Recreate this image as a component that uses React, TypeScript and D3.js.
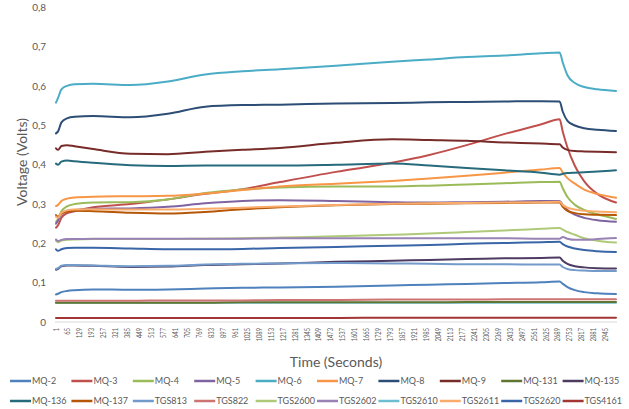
import React from "react";
import * as d3 from "d3";

// Sample times (seconds) at which each sensor trace is sampled
const times = [1, 12, 30, 60, 100, 200, 400, 600, 800, 1000, 1200, 1500, 1800, 2000, 2200, 2400, 2600, 2698, 2715, 2740, 2780, 2830, 2900, 3000];

const mq2 = [0.070, 0.072, 0.076, 0.079, 0.081, 0.083, 0.082, 0.083, 0.085, 0.087, 0.088, 0.090, 0.093, 0.095, 0.097, 0.099, 0.101, 0.103, 0.097, 0.089, 0.081, 0.076, 0.073, 0.071];
const mq3 = [0.240, 0.246, 0.265, 0.277, 0.282, 0.292, 0.300, 0.312, 0.326, 0.338, 0.356, 0.382, 0.405, 0.425, 0.450, 0.478, 0.503, 0.516, 0.484, 0.444, 0.397, 0.358, 0.326, 0.304];
const mq4 = [0.255, 0.262, 0.282, 0.294, 0.300, 0.304, 0.305, 0.312, 0.328, 0.337, 0.342, 0.345, 0.345, 0.347, 0.350, 0.353, 0.356, 0.357, 0.340, 0.318, 0.298, 0.285, 0.274, 0.262];
const mq5 = [0.250, 0.258, 0.275, 0.283, 0.285, 0.288, 0.289, 0.293, 0.302, 0.308, 0.310, 0.308, 0.305, 0.304, 0.305, 0.306, 0.308, 0.308, 0.298, 0.285, 0.273, 0.265, 0.259, 0.255];
const mq6 = [0.558, 0.570, 0.592, 0.601, 0.605, 0.606, 0.603, 0.612, 0.630, 0.638, 0.643, 0.652, 0.662, 0.668, 0.674, 0.678, 0.684, 0.686, 0.660, 0.628, 0.608, 0.598, 0.592, 0.588];
const mq7 = [0.295, 0.298, 0.308, 0.314, 0.317, 0.319, 0.320, 0.321, 0.327, 0.336, 0.345, 0.352, 0.359, 0.365, 0.372, 0.380, 0.388, 0.392, 0.380, 0.366, 0.352, 0.337, 0.326, 0.316];
const mq8 = [0.480, 0.485, 0.508, 0.518, 0.522, 0.524, 0.521, 0.530, 0.548, 0.552, 0.553, 0.556, 0.557, 0.559, 0.560, 0.561, 0.562, 0.561, 0.535, 0.512, 0.500, 0.493, 0.489, 0.486];
const mq9 = [0.442, 0.438, 0.448, 0.450, 0.447, 0.440, 0.428, 0.427, 0.433, 0.438, 0.443, 0.456, 0.465, 0.463, 0.461, 0.457, 0.454, 0.452, 0.444, 0.438, 0.435, 0.434, 0.433, 0.432];
const mq131 = [0.049, 0.049, 0.049, 0.049, 0.049, 0.049, 0.049, 0.049, 0.049, 0.050, 0.050, 0.050, 0.050, 0.050, 0.051, 0.051, 0.051, 0.051, 0.051, 0.051, 0.051, 0.051, 0.051, 0.051];
const mq135 = [0.133, 0.135, 0.142, 0.144, 0.144, 0.143, 0.140, 0.141, 0.145, 0.147, 0.149, 0.153, 0.156, 0.158, 0.160, 0.162, 0.163, 0.164, 0.156, 0.148, 0.142, 0.139, 0.137, 0.136];
const mq136 = [0.403, 0.400, 0.408, 0.411, 0.409, 0.405, 0.399, 0.397, 0.398, 0.398, 0.398, 0.400, 0.403, 0.398, 0.392, 0.386, 0.380, 0.375, 0.377, 0.379, 0.380, 0.381, 0.383, 0.386];
const mq137 = [0.272, 0.268, 0.276, 0.281, 0.283, 0.282, 0.278, 0.276, 0.280, 0.287, 0.292, 0.297, 0.300, 0.301, 0.302, 0.303, 0.304, 0.304, 0.293, 0.283, 0.277, 0.274, 0.273, 0.272];
const tgs813 = [0.135, 0.137, 0.143, 0.145, 0.145, 0.144, 0.142, 0.143, 0.146, 0.148, 0.149, 0.150, 0.149, 0.148, 0.147, 0.147, 0.146, 0.146, 0.140, 0.135, 0.132, 0.131, 0.130, 0.130];
const tgs822 = [0.054, 0.054, 0.054, 0.054, 0.054, 0.054, 0.054, 0.055, 0.055, 0.055, 0.056, 0.056, 0.057, 0.057, 0.057, 0.058, 0.058, 0.058, 0.058, 0.058, 0.058, 0.058, 0.058, 0.058];
const tgs2600 = [0.207, 0.203, 0.207, 0.209, 0.210, 0.211, 0.211, 0.211, 0.212, 0.213, 0.215, 0.218, 0.222, 0.225, 0.229, 0.233, 0.237, 0.239, 0.235, 0.229, 0.222, 0.213, 0.207, 0.202];
const tgs2602 = [0.210, 0.206, 0.209, 0.211, 0.211, 0.212, 0.212, 0.212, 0.212, 0.212, 0.213, 0.213, 0.213, 0.213, 0.213, 0.213, 0.212, 0.212, 0.216, 0.212, 0.209, 0.209, 0.211, 0.214];
const tgs2610 = [0.049, 0.049, 0.049, 0.049, 0.049, 0.049, 0.049, 0.049, 0.049, 0.049, 0.049, 0.049, 0.049, 0.049, 0.049, 0.049, 0.049, 0.049, 0.049, 0.049, 0.049, 0.049, 0.049, 0.049];
const tgs2611 = [0.268, 0.265, 0.278, 0.284, 0.286, 0.287, 0.286, 0.286, 0.288, 0.291, 0.294, 0.298, 0.301, 0.302, 0.303, 0.304, 0.305, 0.306, 0.298, 0.291, 0.286, 0.283, 0.281, 0.279];
const tgs2620 = [0.185, 0.181, 0.185, 0.188, 0.189, 0.189, 0.187, 0.185, 0.185, 0.186, 0.188, 0.191, 0.194, 0.196, 0.199, 0.201, 0.203, 0.204, 0.198, 0.192, 0.187, 0.183, 0.180, 0.178];
const tgs4161 = [0.010, 0.010, 0.010, 0.010, 0.010, 0.010, 0.010, 0.010, 0.010, 0.010, 0.010, 0.010, 0.011, 0.011, 0.011, 0.011, 0.011, 0.011, 0.011, 0.011, 0.011, 0.011, 0.011, 0.011];

const seriesNames = ["MQ-2", "MQ-3", "MQ-4", "MQ-5", "MQ-6", "MQ-7", "MQ-8", "MQ-9", "MQ-131", "MQ-135",
  "MQ-136", "MQ-137", "TGS813", "TGS822", "TGS2600", "TGS2602", "TGS2610", "TGS2611", "TGS2620", "TGS4161"];
const seriesValues = [mq2, mq3, mq4, mq5, mq6, mq7, mq8, mq9, mq131, mq135,
  mq136, mq137, tgs813, tgs822, tgs2600, tgs2602, tgs2610, tgs2611, tgs2620, tgs4161];
const seriesColors = ["#4F81BD", "#C0504D", "#9BBB59", "#8064A2", "#4BACC6", "#F79646", "#2C4D75", "#772C2A", "#5F7530", "#4D3B62",
  "#276A7C", "#B65708", "#729ACA", "#CD7371", "#AFC97A", "#9983B5", "#6FBDD1", "#F9AB6B", "#3A66A8", "#A23634"];
// drawing order (TGS2610 sits underneath the other low traces)
const drawOrder = [16, 0, 1, 2, 3, 4, 5, 6, 7, 8, 9, 10, 11, 12, 13, 14, 15, 17, 18, 19];

const xTickLabels = ["1", "65", "129", "193", "257", "321", "385", "449", "513", "577", "641", "705", "769", "833", "897", "961",
  "1025", "1089", "1153", "1217", "1281", "1345", "1409", "1473", "1537", "1601", "1665", "1729", "1793", "1857", "1921", "1985",
  "2049", "2113", "2177", "2241", "2305", "2369", "2433", "2497", "2561", "2625", "2689", "2753", "2817", "2881", "2945"];
const yTicks = [0, 0.1, 0.2, 0.3, 0.4, 0.5, 0.6, 0.7, 0.8];

const W = 629;
const H = 409;
const FONT = "Lato, 'Open Sans', sans-serif";
const TEXT = "#595959";

export default function App() {
  const x = d3.scaleLinear().domain([1, 3000]).range([56, 616]);
  const y = d3.scaleLinear().domain([0, 0.8]).range([322, 7.6]);

  const line = d3
    .line<[number, number]>()
    .x((d) => x(d[0]))
    .y((d) => y(d[1]))
    .curve(d3.curveMonotoneX);

  const fmt = (v: number) => (v === 0 ? "0" : d3.format(".1f")(v).replace(".", ","));

  return (
    <svg width={W} height={H} style={{ position: "absolute", left: 0, top: 0, display: "block", background: "#fff" }}>
      {/* x axis baseline */}
      <line x1={55} x2={617} y1={y(0)} y2={y(0)} stroke="#D9D9D9" strokeWidth={1} />

      {/* y tick labels */}
      {yTicks.map((t) => (
        <text key={t} x={46} y={y(t)} dy="0.35em" textAnchor="end" fontFamily={FONT} fontSize={10} fill={TEXT}>
          {fmt(t)}
        </text>
      ))}

      {/* x tick labels, rotated and slightly condensed */}
      {xTickLabels.map((lab) => {
        const px = x(+lab);
        return (
          <text
            key={lab}
            transform={`translate(${px},328) rotate(-90) scale(0.8,1)`}
            textAnchor="end"
            dy="0.35em"
            fontFamily={FONT}
            fontSize={7.2}
            fill={TEXT}
          >
            {lab}
          </text>
        );
      })}

      {/* axis titles */}
      <text x={336} y={362} dy="0.35em" textAnchor="middle" fontFamily={FONT} fontSize={14} fill={TEXT}>
        Time (Seconds)
      </text>
      <text transform="translate(22,162) rotate(-90)" dy="0.35em" textAnchor="middle" fontFamily={FONT} fontSize={14} fill={TEXT}>
        Voltage (Volts)
      </text>

      {/* sensor traces */}
      <g fill="none" strokeWidth={2} strokeLinejoin="round" strokeLinecap="round">
        {drawOrder.map((i) => {
          const pts = times.map((t, k) => [t, seriesValues[i][k]] as [number, number]);
          return <path key={seriesNames[i]} d={line(pts) || ""} stroke={seriesColors[i]} />;
        })}
      </g>

      {/* legend */}
      <g>
        {seriesNames.map((name, i) => {
          const col = i % 10;
          const row = Math.floor(i / 10);
          const lx = 10 + col * 61.4;
          const ly = 381 + row * 20;
          return (
            <g key={name}>
              <line x1={lx} x2={lx + 21} y1={ly} y2={ly} stroke={seriesColors[i]} strokeWidth={2.5} />
              <text x={lx + 22} y={ly} dy="0.35em" fontFamily={FONT} fontSize={9} fill={TEXT}>
                {name}
              </text>
            </g>
          );
        })}
      </g>
    </svg>
  );
}
